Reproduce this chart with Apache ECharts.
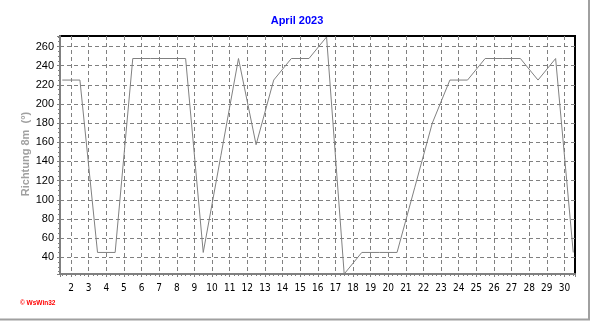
<!DOCTYPE html>
<html>
<head>
<meta charset="utf-8">
<script src="https://cdn.jsdelivr.net/npm/echarts@6/dist/echarts.min.js"></script>
<style>
  html, body { margin: 0; padding: 0; background: #fff; }
  #chart { width: 592px; height: 321px; }
</style>
</head>
<body>
<div id="chart"></div>
<script>
// Day positions (noon of each day in April 2023)
var days = [1.5, 2.5, 3.5, 4.5, 5.5, 6.5, 7.5, 8.5, 9.5, 10.5,
            11.5, 12.5, 13.5, 14.5, 15.5, 16.5, 17.5, 18.5, 19.5, 20.5,
            21.5, 22.5, 23.5, 24.5, 25.5, 26.5, 27.5, 28.5, 29.5, 30.5];
// Wind direction at 8 m (degrees)
var direction = [225, 225, 45, 45, 247.5, 247.5, 247.5, 247.5, 45, 146,
                 247.5, 157.5, 225, 247.5, 247.5, 270, 22.5, 45, 45, 45,
                 112.5, 180, 225, 225, 247.5, 247.5, 247.5, 225, 247.5, 45];
var titleText = 'April 2023';
var yAxisTitle = 'Richtung 8m  (°)';
var logoText = '© WsWin32';

var chart = echarts.init(document.getElementById('chart'), null, { renderer: 'canvas' });

var points = days.map(function (d, i) { return [d, direction[i]]; });

var option = {
  animation: false,
  backgroundColor: '#ffffff',
  title: {
    text: titleText,
    left: 297,
    top: 15,
    padding: 0,
    textAlign: 'center',
    textStyle: { color: '#0000ff', fontSize: 11, fontWeight: 'bold', fontFamily: 'Liberation Sans, Arial, sans-serif' }
  },
  grid: {
    left: 60, top: 36, right: 17, bottom: 47,
    show: true, borderColor: '#000000', borderWidth: 2, backgroundColor: '#ffffff', z: -1
  },
  xAxis: {
    type: 'value',
    min: 1.37,
    max: 30.6,
    splitNumber: 30,
    axisLine: { show: true, lineStyle: { color: '#808080', width: 2 } },
    axisTick: { show: true, length: 3, lineStyle: { color: '#808080' } },
    minorTick: { show: true, splitNumber: 4, length: 2, lineStyle: { color: '#808080' } },
    axisLabel: {
      margin: 9,
      color: '#000000',
      fontSize: 10,
      fontFamily: 'Liberation Sans Narrow, DejaVu Sans Condensed, Liberation Sans, sans-serif',
      formatter: function (v) { return Math.abs(v - Math.round(v)) < 1e-6 ? String(Math.round(v)) : ''; },
      showMinLabel: false,
      showMaxLabel: false
    },
    splitLine: { show: true, showMinLine: false, showMaxLine: false, lineStyle: { color: '#808080', type: [4, 3], width: 1 } }
  },
  yAxis: {
    type: 'value',
    min: 22.5,
    max: 271,
    splitNumber: 12,
    axisLine: { show: true, lineStyle: { color: '#808080', width: 2 } },
    axisTick: { show: true, length: 3, lineStyle: { color: '#808080' } },
    minorTick: { show: true, splitNumber: 4, length: 2, lineStyle: { color: '#808080' } },
    axisLabel: {
      margin: 6,
      color: '#000000',
      fontSize: 11,
      fontFamily: 'Liberation Sans, Arial, sans-serif',
      formatter: function (v) { return Math.abs(v % 20) < 1e-6 ? String(v) : ''; },
      showMinLabel: false,
      showMaxLabel: false
    },
    splitLine: { show: true, showMinLine: false, showMaxLine: false, lineStyle: { color: '#808080', type: [4, 3], width: 1 } }
  },
  graphic: [
    {
      type: 'text',
      x: 26, y: 154,
      rotation: Math.PI / 2,
      style: {
        text: yAxisTitle,
        fill: '#a0a0a0',
        font: 'bold 11px "Liberation Sans", Arial, sans-serif',
        textAlign: 'center',
        textVerticalAlign: 'middle'
      }
    },
    {
      type: 'text',
      x: 20, y: 303,
      style: {
        text: logoText,
        fill: '#ff0000',
        font: 'bold 6.5px "Liberation Sans", Arial, sans-serif',
        textAlign: 'left',
        textVerticalAlign: 'middle'
      }
    },
    {
      type: 'line',
      shape: { x1: 589, y1: 0, x2: 589, y2: 320 },
      style: { stroke: '#a0a0a0', lineWidth: 2 }
    },
    {
      type: 'line',
      shape: { x1: 0, y1: 319.5, x2: 590, y2: 319.5 },
      style: { stroke: '#a0a0a0', lineWidth: 2 }
    }
  ],
  series: [
    {
      type: 'line',
      data: points,
      showSymbol: false,
      symbol: 'none',
      clip: true,
      lineStyle: { color: '#808080', width: 1 },
      z: 3
    }
  ]
};

chart.setOption(option);
</script>
</body>
</html>
